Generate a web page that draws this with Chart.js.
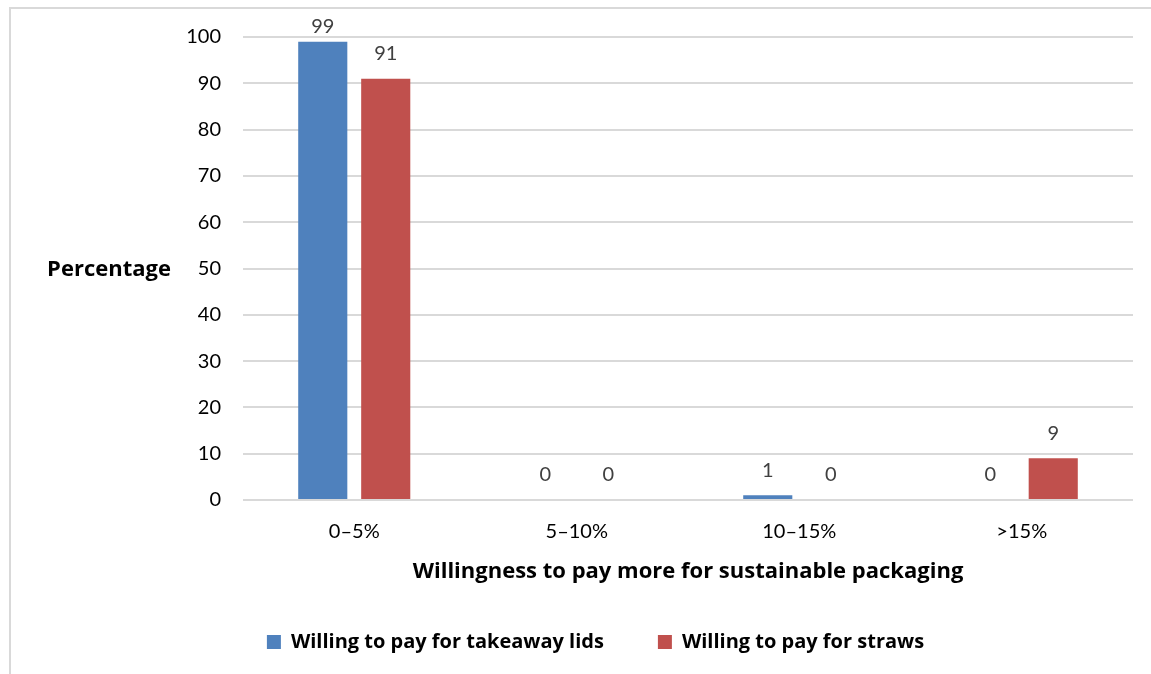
<!DOCTYPE html>
<html>
<head>
<meta charset="utf-8">
<script src="https://cdn.jsdelivr.net/npm/chart.js@4/dist/chart.umd.min.js"></script>
<style>
  html, body { margin: 0; padding: 0; background: #fff; }
  #frame {
    position: absolute; left: 9px; top: 7px; width: 1160px; height: 700px;
    border: 2px solid #d9d9d9; box-sizing: border-box;
  }
  #wrap { position: absolute; left: 0; top: 0; width: 1151px; height: 674px; }
</style>
</head>
<body>
<div id="frame"></div>
<div id="wrap"><canvas id="payChart"></canvas></div>
<script>
// price bands and share of respondents per band
const bands = ["0–5%", "5–10%", "10–15%", ">15%"];
const lidsValues = [99, 0, 1, 0];
const strawsValues = [91, 0, 0, 9];
const seriesNames = ["Willing to pay for takeaway lids", "Willing to pay for straws"];
const yTicks = [0, 10, 20, 30, 40, 50, 60, 70, 80, 90, 100];

const FONT = "Lato, 'Open Sans', sans-serif";
const BOLD_FONT = "'Open Sans', Lato, sans-serif";

// value labels above each bar
const valueLabels = {
  id: "valueLabels",
  afterDatasetsDraw(chart) {
    const ctx = chart.ctx;
    ctx.save();
    ctx.font = "20px " + FONT;
    ctx.fillStyle = "#404040";
    ctx.textAlign = "center";
    ctx.textBaseline = "middle";
    chart.data.datasets.forEach((ds, i) => {
      chart.getDatasetMeta(i).data.forEach((bar, j) => {
        const y = Math.max(bar.y - 25, 27);
        ctx.fillText(String(ds.data[j]), bar.x, y);
      });
    });
    ctx.restore();
  }
};

// horizontal y-axis title on the left
const yTitle = {
  id: "yTitle",
  afterDraw(chart) {
    const ctx = chart.ctx;
    const area = chart.chartArea;
    ctx.save();
    ctx.font = "bold 22px " + BOLD_FONT;
    ctx.fillStyle = "#000";
    ctx.textAlign = "center";
    ctx.textBaseline = "middle";
    ctx.fillText("Percentage", 109, (area.top + area.bottom) / 2 + 1);
    ctx.restore();
  }
};

new Chart(document.getElementById("payChart"), {
  type: "bar",
  data: {
    labels: bands,
    datasets: [
      { label: seriesNames[0], data: lidsValues, backgroundColor: "#4F81BD" },
      { label: seriesNames[1], data: strawsValues, backgroundColor: "#C0504D" },
    ],
  },
  options: {
    responsive: true,
    maintainAspectRatio: false,
    animation: false,
    layout: { padding: { left: 58, right: 18, top: 37, bottom: 12 } },
    datasets: { bar: { categoryPercentage: 0.566, barPercentage: 0.78 } },
    scales: {
      x: {
        grid: { display: false, drawTicks: false },
        border: { display: false },
        ticks: { color: "#000", font: { family: FONT, size: 20 }, padding: 20 },
        title: {
          display: true,
          text: "Willingness to pay more for sustainable packaging",
          color: "#000",
          font: { family: BOLD_FONT, size: 22, weight: "bold" },
          padding: { top: 0, bottom: -7 },
        },
        afterFit(scale) { scale.height = 78; },
      },
      y: {
        min: 0,
        max: 100,
        afterBuildTicks(scale) { scale.ticks = yTicks.map(v => ({ value: v })); },
        grid: { color: "#d9d9d9", lineWidth: 2, drawTicks: false },
        border: { display: false },
        ticks: { color: "#000", font: { family: FONT, size: 20 }, padding: 22 },
        afterFit(scale) { scale.width = 185; },
      },
    },
    plugins: {
      legend: {
        position: "bottom",
        labels: {
          color: "#000",
          font: { family: BOLD_FONT, size: 20, weight: "bold" },
          boxWidth: 14,
          boxHeight: 14,
          padding: 54,
        },
      },
      tooltip: { enabled: false },
    },
  },
  plugins: [valueLabels, yTitle],
});
</script>
</body>
</html>
